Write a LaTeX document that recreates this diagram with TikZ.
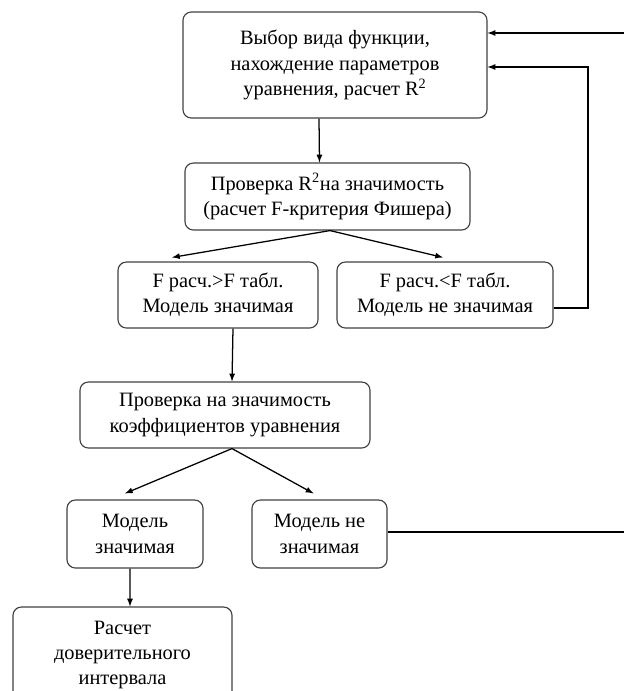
\documentclass[tikz,border=0pt]{standalone}
\usepackage{fontspec}
\setmainfont{Liberation Serif}
\usetikzlibrary{calc}

\begin{document}
\begin{tikzpicture}[x=0.025cm, y=-0.025cm,
    box/.style={draw=black!75, line width=0.8pt, rounded corners=6pt, align=center, inner sep=0pt, font=\fontsize{14.5}{18}\selectfont},
    arr/.style={-latex, line width=0.9pt}]
             \clip (0,0) rectangle (624,691);
             \node (choice) [box, minimum width=7.6cm, minimum height=2.65cm] at (335,65) {Выбор вида функции,\\нахождение параметров\\уравнения, расчет R\textsuperscript{2}};
             \node (rcheck) [box, minimum width=7.125cm, minimum height=1.675cm] at (327.5,196.5) {Проверка R\textsuperscript{2}на значимость\\(расчет F-критерия Фишера)};
             \node (fsig) [box, minimum width=5cm, minimum height=1.65cm] at (218,295) {F расч.>F табл.\\Модель значимая};
             \node (fnot) [box, minimum width=5.4cm, minimum height=1.65cm] at (445,295) {F расч.<F табл.\\Модель не значимая};
             \node (coef) [box, minimum width=7.25cm, minimum height=1.65cm] at (225,415) {Проверка на значимость\\коэффициентов уравнения};
             \node (msig) [box, minimum width=3.4cm, minimum height=1.7cm] at (135,534) {Модель\\значимая};
             \node (mnot) [box, minimum width=3.375cm, minimum height=1.7cm] at (319.5,534) {Модель не\\значимая};
             \node (interval) [box, minimum width=5.475cm, minimum height=2.4cm] at (122.5,655) {Расчет\\доверительного\\интервала};
             \coordinate (back) at (588,67);
             \coordinate (topin) at (624,33);
             \coordinate (botout) at (624,532);
             \draw [arr] ($(choice.south)+(-16,0)$) -- ($(rcheck.north)+(-8,0)$);
             \draw [arr] ($(rcheck.south)+(2.5,0)$) -- ($(fsig.north)+(-46,-4)$);
             \draw [arr] ($(rcheck.south)+(2.5,0)$) -- ($(fnot.north)+(-2,-4)$);
             \draw [arr] ($(fsig.south)+(15,0)$) -- ($(coef.north)+(7,0)$);
             \draw [arr] ($(coef.south)+(7,0)$) -- ($(msig.north)+(-10,-6)$);
             \draw [arr] ($(coef.south)+(7,0)$) -- ($(mnot.north)+(-6,-6)$);
             \draw [arr] ($(msig.south)+(-5,0)$) -- ($(interval.north)+(7.5,0)$);
             \draw [arr] ($(fnot.east)+(0,13)$) -| (back) -- ($(choice.east)+(0,2)$);
             \draw [arr] (topin) -- ($(choice.east)+(0,-32)$);
             \draw [line width=0.9pt] ($(mnot.east)+(0,-2)$) -- (botout);
        \end{tikzpicture}
\end{document}
